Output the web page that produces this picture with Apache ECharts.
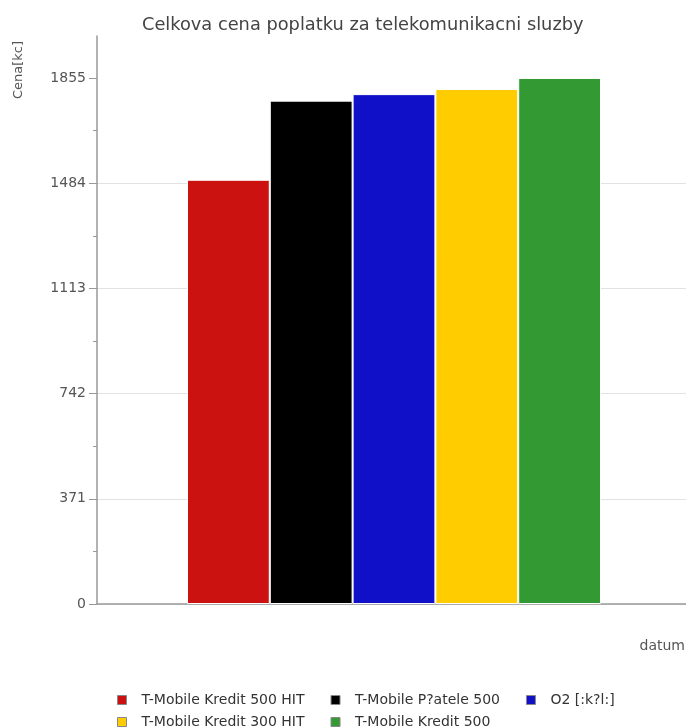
<!DOCTYPE html>
<html><head><meta charset="utf-8">
<script src="https://cdn.jsdelivr.net/npm/echarts@6/dist/echarts.min.js"></script>
<style>html,body{margin:0;padding:0;background:#fff}#c{width:686px;height:727px}</style>
</head><body><div id="c"></div>
<script>
const categories = [''];
const seriesNames = ['T-Mobile Kredit 500 HIT','T-Mobile P?atele 500','O2 [:k?l:]','T-Mobile Kredit 300 HIT','T-Mobile Kredit 500'];
const seriesValues = [[1496],[1775],[1798],[1816],[1855]];
const seriesColors = ['#cc1111','#000000','#1010c8','#ffcc00','#339933'];
const yTicks = [0,371,742,1113,1484,1855];
const yMinorTicks = [185.5,556.5,927.5,1298.5,1669.5];
const titleText = 'Celkova cena poplatku za telekomunikacni sluzby';
const yName = 'Cena[kc]';
const xName = 'datum';

const chart = echarts.init(document.getElementById('c'));
const font = 'DejaVu Sans';
const legendBase = {left: 112, itemWidth: 9, itemHeight: 9, itemGap: 26, icon: 'rect',
  textStyle: {fontFamily: font, fontSize: 14, color: '#333', padding: [0,0,0,10]},
  itemStyle: {borderColor: '#888', borderWidth: 1}};
const option = {
  animation: false,
  textStyle: {fontFamily: font},
  title: {text: titleText, left: 137, top: 11, textStyle: {fontFamily: font, fontSize: 17.8, fontWeight: 'normal', color: '#444'}},
  legend: [
    Object.assign({data: seriesNames.slice(0,3), top: 688}, legendBase),
    Object.assign({data: seriesNames.slice(3), top: 710}, legendBase)
  ],
  grid: {left: 97, top: 36, width: 594, bottom: 123, outerBoundsMode: 'none'},
  xAxis: {type: 'category', data: categories, axisLine: {lineStyle: {color: '#999', width: 1.5}}, axisTick: {show: false}, axisLabel: {show: false}},
  yAxis: [
    {type: 'value', min: 0, max: 2003, interval: 371,
     axisLine: {show: true, lineStyle: {color: '#999', width: 1.5}},
     axisTick: {show: true, length: 8, lineStyle: {color: '#999'}, customValues: yTicks},
     axisLabel: {color: '#555', fontSize: 14, fontFamily: font, margin: 11, customValues: yTicks, formatter: v => String(v)},
     splitLine: {show: true, showMaxLine: false, lineStyle: {color: '#e2e2e2'}}},
    {type: 'value', min: 0, max: 2003, position: 'left',
     axisLine: {show: false},
     axisTick: {show: true, length: 4, lineStyle: {color: '#999'}, customValues: yMinorTicks},
     axisLabel: {show: false}, splitLine: {show: false}}
  ],
  graphic: [
    {type: 'text', x: 19, y: 70, rotation: Math.PI/2, style: {text: yName, fill: '#555', font: '13px "DejaVu Sans"', align: 'center', verticalAlign: 'middle'}},
    {type: 'text', x: 685, y: 646, style: {text: xName, fill: '#555', font: '14px "DejaVu Sans"', align: 'right', verticalAlign: 'middle'}}
  ],
  series: seriesNames.map((n,i) => ({
    name: n, type: 'bar', data: seriesValues[i], barGap: '0%', barCategoryGap: '30.3%',
    itemStyle: {color: seriesColors[i], borderColor: '#fff', borderWidth: 1}
  }))
};
chart.setOption(option);
</script></body></html>
